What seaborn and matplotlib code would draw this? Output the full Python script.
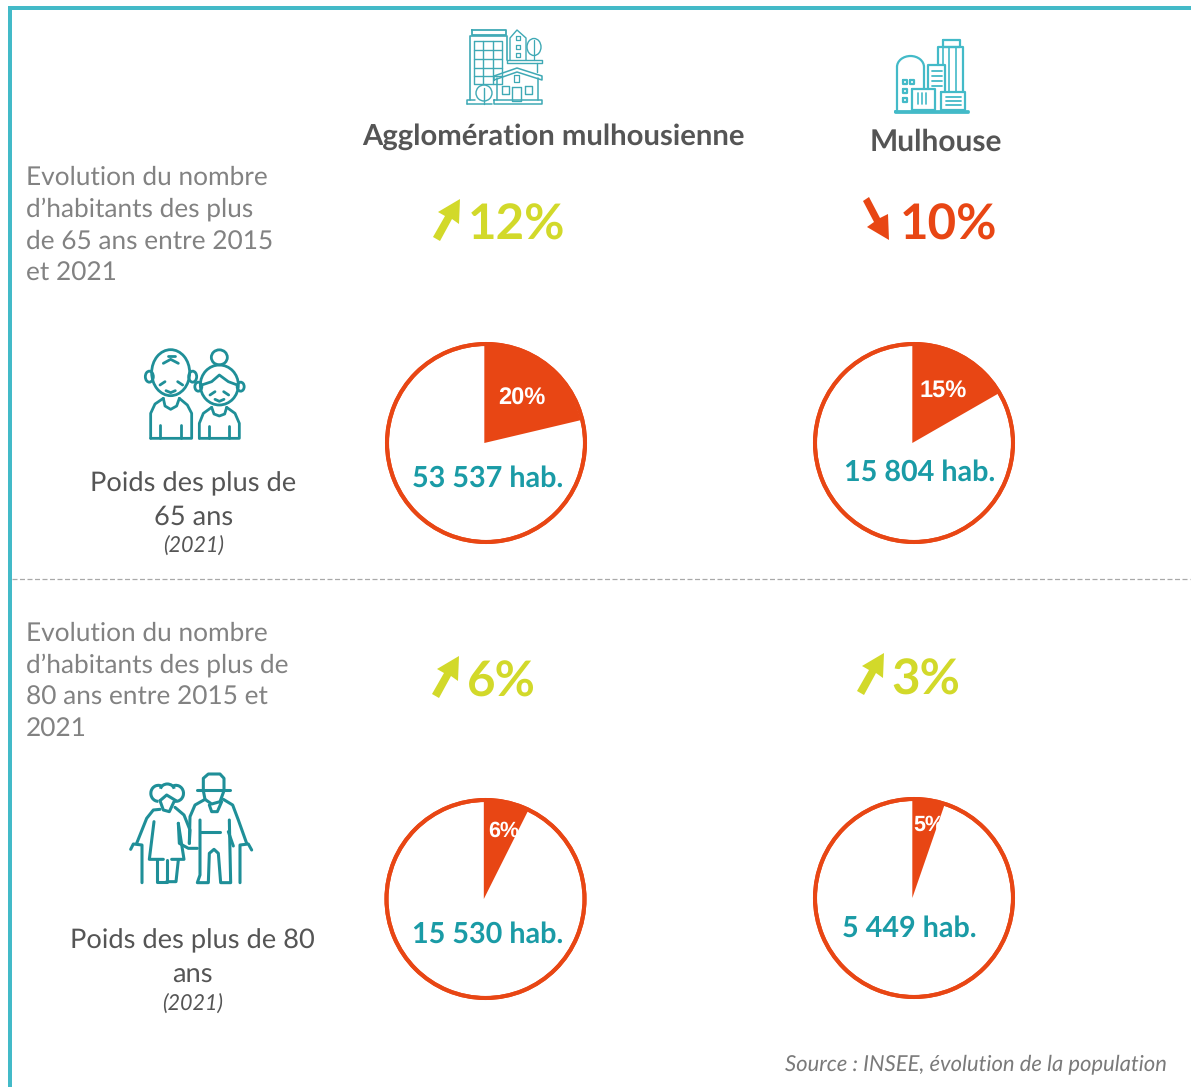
import numpy as np
import matplotlib
matplotlib.use("Agg")
import matplotlib.pyplot as plt
import seaborn as sns
from matplotlib.patches import Ellipse, Arc, Rectangle, Polygon, Circle

sns.set_theme(style="white")
plt.rcParams['font.family'] = ['Lato', 'DejaVu Sans']
plt.rcParams['text.hinting'] = 'no_hinting'
plt.rcParams['text.hinting_factor'] = 8

W, H = 1191, 1087

# ---- data ----
columns = ["Agglomération mulhousienne", "Mulhouse"]
evolution_labels = ["12%", "10%", "6%", "3%"]
evolution_dirs = ["up", "down", "up", "up"]
slice_shares = [21.3, 16.7, 7.4, 5.3]
slice_labels = ["20%", "15%", "6%", "5%"]
hab_labels = ["53 537 hab.", "15 804 hab.", "15 530 hab.", "5 449 hab."]
evolution_text = [
    ["Evolution du nombre", "d’habitants des plus", "de 65 ans entre 2015", "et 2021"],
    ["Evolution du nombre", "d’habitants des plus de", "80 ans entre 2015 et", "2021"],
]
weight_text = [["Poids des plus de", "65 ans"], ["Poids des plus de 80", "ans"]]
year_text = "(2021)"
source_text = "Source : INSEE, évolution de la population"

# ---- style ----
ORANGE, LIME, TEAL, FRAME, ICON, ICON2 = sns.color_palette(
    ["#e84614", "#d2d92a", "#1a9ba6", "#43bac8", "#1f8f98", "#3fa9b5"])
GREY_T = "#828282"
DARK = "#555555"

fig = plt.figure(figsize=(W / 100, H / 100), dpi=100, facecolor="white")

# ---- pies ----
pie_centers = [(486, 443), (914, 443), (485.5, 899), (914, 898)]
pie_r = 99
PAD = 1.08
for (cx, cy), share in zip(pie_centers, slice_shares):
    rr = pie_r * PAD
    ax = fig.add_axes([(cx - rr) / W, 1 - (cy + rr) / H, 2 * rr / W, 2 * rr / H])
    ax.pie([1], colors=["white"], radius=1, startangle=90,
           wedgeprops=dict(edgecolor=ORANGE, linewidth=2.9))
    ax.pie([share, 100 - share], colors=[ORANGE, "none"], radius=1, startangle=90,
           counterclock=False, center=(-0.017, 0), wedgeprops=dict(linewidth=0))
    ax.pie([1], colors=["none"], radius=1,
           wedgeprops=dict(edgecolor=ORANGE, linewidth=2.9))
    ax.set_xlim(-PAD, PAD)
    ax.set_ylim(-PAD, PAD)
    ax.set_aspect("equal")

# ---- overlay in pixel coordinates ----
ov = fig.add_axes([0, 0, 1, 1], zorder=10)
ov.set_xlim(0, W)
ov.set_ylim(H, 0)
ov.axis("off")

# frame and separator
ov.add_patch(Rectangle((8, 6), 3.5, H, color=FRAME, lw=0))
ov.add_patch(Rectangle((8, 6), W, 4, color=FRAME, lw=0))
ov.plot([12, 1190], [579, 579], color="#a9a9a9", lw=0.9, ls=(0, (4, 2)))


def T(x, y, s, **kw):
    kw.setdefault("va", "baseline")
    kw.setdefault("ha", "left")
    return ov.text(x, y, s, **kw)


# column headers
T(553, 145, columns[0], ha="center", fontsize=21.1, fontweight="bold", color=DARK)
T(935.5, 151, columns[1], ha="center", fontsize=21.5, fontweight="bold", color=DARK)

# left texts
for lines, y0 in zip(evolution_text, (185, 641)):
    for i, line_ in enumerate(lines):
        T(26, y0 + 32 * i, line_, fontsize=18.9, color=GREY_T)
for lines, ys, x, yy in zip(weight_text, ((491.5, 524.5), (948.5, 982.5)), (193.5, 192.5), (551.5, 1009.5)):
    for line_, y in zip(lines, ys):
        T(x, y, line_, ha="center", fontsize=19.6, color=DARK)
    T(x, yy, year_text, ha="center", fontsize=15.5, style="italic", color=DARK)

T(1167, 1070, source_text, ha="right", fontsize=15.8, style="italic", color="#7a7a7a")

# evolution numbers and arrows
UP = np.array([(460, 199), (459, 224), (452, 219), (440, 241), (433, 237), (445, 216), (438, 212)], float)
DOWN = np.array([(863, 201), (869, 197), (880, 218), (888, 214), (889, 240), (867, 227), (874, 222)], float)
evo_pos = [(468, 240), (900, 240), (467, 697), (891, 695)]
arrow_shift = [(0, 0), (0, 0), (-1, 457), (424, 454)]
for lab, d, (x, y), sh in zip(evolution_labels, evolution_dirs, evo_pos, arrow_shift):
    col = LIME if d == "up" else ORANGE
    T(x, y, lab, fontsize=35.5, fontweight="bold", color=col)
    pts = (UP if d == "up" else DOWN) + np.array(sh)
    ov.add_patch(Polygon(pts, closed=True, color=col, lw=0))

# inside pies
hab_pos = [(412.5, 487), (843.5, 481), (412.5, 943), (842.5, 937)]
for lab, (x, y) in zip(hab_labels, hab_pos):
    T(x, y, lab, fontsize=20.7, fontweight="bold", color=TEAL)
pct_pos = [(522, 398.5), (943, 390.5), (504, 831), (929, 825)]
pct_size = [17, 17, 15.5, 15.5]
for lab, (x, y), fs in zip(slice_labels, pct_pos, pct_size):
    T(x, y, lab, ha="center", va="center", fontsize=fs, fontweight="bold",
      color="white", family=["Liberation Sans"])


# ---- icons (decoration) ----
def line(pts, col, lw=1.3):
    p = np.array(pts, float)
    ov.plot(p[:, 0], p[:, 1], color=col, lw=lw, solid_capstyle="round", solid_joinstyle="round")


def box(x0, y0, x1, y1, col, lw=1.3):
    line([(x0, y0), (x1, y0), (x1, y1), (x0, y1), (x0, y0)], col, lw)


def ell(cx, cy, w, h, col, lw=1.3):
    ov.add_patch(Ellipse((cx, cy), w, h, fill=False, ec=col, lw=lw))


def arc(cx, cy, w, h, a, b, col, lw=1.3):
    ov.add_patch(Arc((cx, cy), w, h, theta1=a, theta2=b, ec=col, lw=lw))


# agglomeration icon
c = ICON2
box(472, 30, 506, 35, c)
line([(470, 100), (470, 36), (507, 36), (507, 60)], c, 1.2)
box(474, 41, 502, 84, c, 1.0)
for x in (483, 493):
    line([(x, 41), (x, 84)], c, 1.0)
for y in (50, 59, 68, 76):
    line([(474, y), (502, y)], c, 1.0)
line([(510, 60), (510, 38), (517, 30), (526, 38), (526, 60)], c, 1.0)
for y in (38, 47, 55):
    box(516, y - 2, 520, y + 2, c, 0.9)
ell(534, 47, 14, 17, c, 1.0)
line([(534, 40), (534, 60)], c, 0.9)
box(507, 60, 542, 63, c, 1.0)
line([(537, 63), (537, 72)], c, 1.0)
line([(494, 80), (494, 76), (517, 68), (542, 76), (542, 80), (517, 72), (494, 80)], c, 1.1)
line([(497, 78), (497, 100)], c, 1.1)
line([(538, 78), (538, 100)], c, 1.1)
box(512, 87, 521, 101, c, 1.0)
box(502, 86, 509, 94, c, 1.0)
box(525, 86, 532, 94, c, 1.0)
box(514, 75, 519, 82, c, 0.9)
box(494, 100, 542, 104, c, 1.1)
line([(467, 104), (467, 100), (475, 100)], c, 1.1)
line([(467, 104), (492, 104)], c, 1.1)
ell(484, 93, 16, 16, c, 1.0)
line([(484, 88), (484, 104)], c, 1.0)

# Mulhouse icon
c = FRAME
lw = 1.6
box(895, 110.5, 968, 112, c, 2.0)
line([(897, 110), (897, 67)], c, lw)
arc(910.5, 67, 27, 22, 180, 360, c, lw)
line([(924, 67), (924, 88)], c, lw)
box(903, 80, 907, 84, c, lw)
box(910, 80, 914, 84, c, lw)
box(903, 89, 907, 93, c, lw)
box(903, 98, 907, 102, c, lw)
box(912, 89, 934.5, 110, c, lw)
for x in (918, 922, 926):
    line([(x, 93), (x, 104)], c, 1.2)
line([(928, 89), (928, 65), (945, 65), (945, 92)], c, lw)
for y in (71, 76, 81, 86):
    line([(932, y), (942, y)], c, 1.3)
line([(937.5, 65), (937.5, 47), (963, 47), (963, 92)], c, lw)
for x in (943, 949, 956):
    line([(x, 47), (x, 65 if x < 945 else 92)], c, 1.2)
box(943, 40, 960, 47, c, lw)
box(941, 92, 965, 110, c, lw)
for y in (97, 101, 105):
    line([(946, y), (961, y)], c, 1.3)

# seniors 65+
c = ICON
lw = 2.0
OX, OY = 100, 330


def Z(pts):
    return [(OX + x / 3, OY + y / 3) for x, y in pts]


ell(*Z([(212, 128)])[0], 38, 46, c, lw)
ell(*Z([(148, 140)])[0], 8, 11, c, lw)
ell(*Z([(278, 140)])[0], 8, 11, c, lw)
line(Z([(190, 100), (212, 88), (235, 100)]), c, lw)
line(Z([(205, 78), (225, 78)]), c, lw)
line(Z([(180, 165), (195, 155)]), c, lw)
line(Z([(248, 165), (233, 155)]), c, lw)
line(Z([(198, 182), (212, 188), (226, 182)]), c, lw)
line(Z([(152, 325), (152, 250), (165, 222), (190, 205)]), c, lw)
line(Z([(238, 205), (262, 225), (275, 250), (275, 325), (152, 325)]), c, lw)
line(Z([(190, 205), (195, 228), (212, 238), (230, 228), (238, 205)]), c, lw)
line(Z([(181, 325), (181, 285)]), c, lw)
line(Z([(243, 325), (243, 285)]), c, lw)
ell(*Z([(358, 165)])[0], 38, 40, c, lw)
ell(*Z([(358, 82)])[0], 16, 15, c, lw)
ell(*Z([(295, 170)])[0], 7, 9, c, lw)
ell(*Z([(422, 170)])[0], 7, 9, c, lw)
line(Z([(305, 165), (335, 155), (358, 135), (385, 155), (412, 165)]), c, lw)
line(Z([(330, 195), (345, 185)]), c, lw)
line(Z([(386, 195), (371, 185)]), c, lw)
line(Z([(345, 208), (358, 214), (372, 208)]), c, lw)
line(Z([(298, 325), (298, 280), (310, 250), (335, 232)]), c, lw)
line(Z([(380, 232), (405, 250), (418, 280), (418, 325), (298, 325)]), c, lw)
line(Z([(335, 232), (342, 252), (358, 258), (374, 252), (380, 232)]), c, lw)
line(Z([(327, 325), (327, 288)]), c, lw)
line(Z([(388, 325), (388, 288)]), c, lw)

# seniors 80+
OX, OY = 110, 760
lw = 2.2
# woman
arc(*Z([(145, 100)])[0], 15, 16, 90, 300, c, lw)
arc(*Z([(172, 90)])[0], 14, 12, 190, 350, c, lw)
arc(*Z([(198, 100)])[0], 15, 16, 240, 460, c, lw)
line(Z([(150, 122), (170, 105), (198, 122)]), c, lw)
line(Z([(150, 122), (160, 150), (178, 155), (192, 125)]), c, lw)
line(Z([(150, 148), (130, 150), (110, 175), (80, 250)]), c, lw)
line(Z([(132, 185), (118, 298), (160, 298)]), c, lw)
line(Z([(185, 298), (222, 298), (205, 190)]), c, lw)
line(Z([(195, 142), (222, 165), (240, 210), (238, 250)]), c, lw)
line(Z([(205, 190), (208, 250), (235, 265), (262, 265)]), c, lw)
line(Z([(140, 300), (140, 365), (170, 365), (170, 300)]), c, lw)
line(Z([(170, 365), (198, 365), (205, 300)]), c, lw)
line(Z([(62, 268), (70, 252), (96, 255), (96, 368)]), c, lw)
# man
line(Z([(260, 90), (360, 90)]), c, lw)
line(Z([(280, 88), (280, 55), (295, 42), (330, 42), (342, 55), (342, 88)]), c, lw)
line(Z([(280, 92), (285, 118), (305, 132), (330, 125), (342, 92)]), c, lw)
line(Z([(298, 135), (305, 155), (322, 155), (335, 125)]), c, lw)
line(Z([(285, 118), (255, 135), (240, 170), (238, 250)]), c, lw)
line(Z([(340, 118), (368, 135), (385, 180), (410, 250)]), c, lw)
line(Z([(270, 180), (270, 345), (262, 368), (295, 368), (298, 280), (312, 268), (325, 280), (332, 368), (362, 368), (358, 180)]), c, lw)
line(Z([(270, 215), (330, 215)]), c, lw)
line(Z([(355, 215), (370, 258)]), c, lw)
line(Z([(390, 368), (390, 255), (415, 252), (425, 270)]), c, lw)

fig.savefig("out.png", dpi=100, facecolor="white")
